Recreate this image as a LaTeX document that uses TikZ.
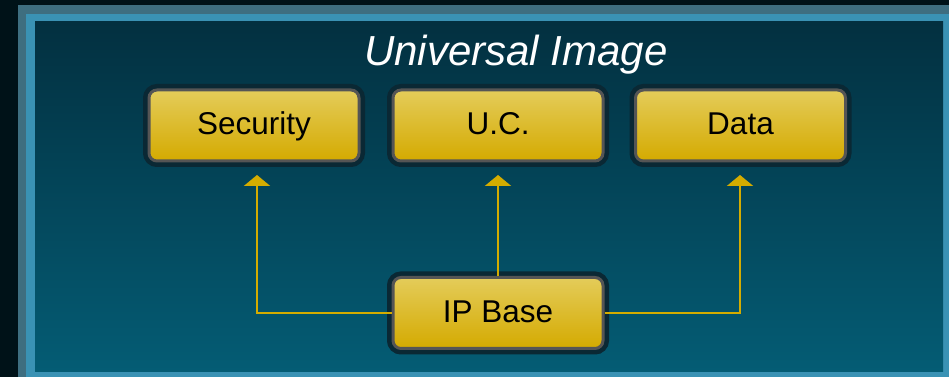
\documentclass[tikz,border=0pt]{standalone}
\usepackage{fontspec}
\setmainfont{Liberation Sans}
\usetikzlibrary{arrows.meta}
\definecolor{bgblack}{RGB}{0,18,24}
\definecolor{frameA}{RGB}{62,110,128}
\definecolor{frameB}{RGB}{58,146,180}
\definecolor{innerTop}{RGB}{3,48,64}
\definecolor{innerBot}{RGB}{4,92,116}
\definecolor{boxTop}{RGB}{228,204,90}
\definecolor{boxBot}{RGB}{212,170,0}
\definecolor{boxEdge}{RGB}{85,85,85}
\definecolor{halo}{RGB}{10,40,52}
\definecolor{wire}{RGB}{212,172,0}
\tikzset{
  ybox/.style={rectangle, rounded corners=8pt, minimum width=210pt, minimum height=71pt,
    top color=boxTop, bottom color=boxBot, draw=boxEdge, line width=3pt,
    preaction={draw=halo, line width=12pt},
    font=\fontsize{31.5}{36}\selectfont, text=black, inner sep=0pt,
    text height=22.5pt, text depth=3.5pt},
  wireline/.style={draw=wire, line width=2.5pt},
  wirearrow/.style={wireline, -{Triangle[width=26pt,length=11pt]}}
}
\begin{document}
\begin{tikzpicture}[x=1pt,y=1pt]
\useasboundingbox (0,0) rectangle (949,377);
% background
\fill[bgblack] (0,0) rectangle (949,377);
\fill[frameA] (18,0) rectangle (949,372);
\fill[frameB] (26,0) rectangle (949,363);
\shade[top color=innerTop, bottom color=innerBot] (35,6) rectangle (943,355);
% title
\node[anchor=base, text=white, font=\itshape\fontsize{42}{48}\selectfont] (title) at (516,311) {Universal Image};
% boxes
\node[ybox] (sec) at (254,251.5) {Security};
\node[ybox] (uc) at (498,251.5) {U.C.};
\node[ybox] (data) at (740.5,251.5) {Data};
\node[ybox] (ip) at (498,64) {IP Base};
% connectors
\coordinate (secend) at (257,202);
\coordinate (ucend) at (498,202);
\coordinate (dataend) at (740,202);
\draw[wirearrow] (ip.west) -| (secend);
\draw[wirearrow] (ip.north) -- (ucend);
\draw[wirearrow] (ip.east) -| (dataend);
\end{tikzpicture}
\end{document}
